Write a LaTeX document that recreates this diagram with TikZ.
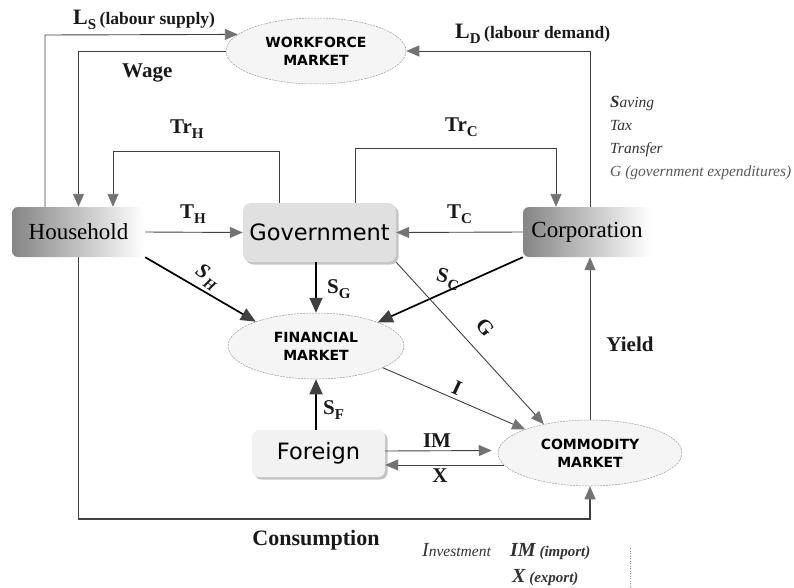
\documentclass[tikz,border=0pt]{standalone}
\usepackage{fontspec}
\setmainfont{Liberation Serif}
\newfontfamily\sansbox{DejaVu Sans}
\usetikzlibrary{arrows.meta,shapes.geometric,shadows}

% lowered subscript letter used in the flow labels
\newcommand\lsub[1]{\raisebox{-5pt}{\fontsize{15}{15}\selectfont #1}}

\begin{document}
\begin{tikzpicture}[x=1pt,y=-1pt,
  flow/.style={draw=black!75, line width=0.9pt,
    -{Triangle[length=13pt,width=11pt,color=black!55]}},
  heavy/.style={draw=black, line width=1.7pt,
    -{Triangle[length=15pt,width=13pt,color=black!75]}},
  market/.style={ellipse, draw=black!40, line width=0.5pt,
    dash pattern=on 2pt off 1pt, fill=black!4, inner sep=0pt,
    align=center, font=\sansbox\bfseries\fontsize{14}{18}\selectfont},
  gradbox/.style={rectangle, rounded corners=6pt, left color=black!48,
    right color=white, minimum height=50pt,
    font=\fontsize{23}{27}\selectfont},
  shadebox/.style={rectangle, rounded corners=8pt, fill=black!12,
    drop shadow={shadow xshift=2.5pt, shadow yshift=-2.5pt, fill=black!45},
    font=\sansbox\fontsize{22.5}{27}\selectfont},
  lab/.style={inner sep=0pt, text=black!90,
    font=\bfseries\fontsize{21}{24}\selectfont},
  note/.style={inner sep=0pt, anchor=base west, text=black!80,
    font=\itshape\fontsize{15.5}{17}\selectfont}
]
\useasboundingbox (0,0) rectangle (794,587);

% markets
\node[market, minimum width=180pt, minimum height=66pt] (wf) at (316,51) {WORKFORCE\\MARKET};
\node[market, minimum width=176pt, minimum height=66pt] (fin) at (316,346) {FINANCIAL\\MARKET};
\node[market, minimum width=184pt, minimum height=66pt] (com) at (590,453) {COMMODITY\\MARKET};

% agents
\node[gradbox, minimum width=133pt] (hh) at (78.5,232) {Household};
\node[shadebox, minimum width=153pt, minimum height=59pt] (gov) at (319.5,232.5) {Government};
\node[gradbox, minimum width=128pt] (corp) at (587,232) {Corporation};
\node[shadebox, fill=black!5, rounded corners=7pt, minimum width=133pt, minimum height=47pt] (frn) at (318.5,453.5) {Foreign};

% bend points of the elbow connectors
\coordinate (lsx) at (45,35);
\coordinate (trhR) at (279,151);
\coordinate (trhL) at (113,151);
\coordinate (trcL) at (355,148);
\coordinate (trcR) at (556,148);
\coordinate (ldx) at (590,50);
\coordinate (consY) at (79,519);

% labour market
\draw[flow] (hh.north -| lsx) -- (lsx) -- (wf.168.5);
\draw[flow] (wf.west) -| (hh.north);
\draw[flow] (corp.north -| ldx) |- (wf.east);

% transfers and taxes
\draw[flow] (gov.north -| trhR) -- (trhR) -- (trhL) -- (hh.north -| trhL);
\draw[flow] (gov.north -| trcL) -- (trcL) -- (trcR) -- (corp.north -| trcR);
\draw[flow] (hh.east) -- (gov.west);
\draw[flow] (corp.west) -- (gov.east);

% savings
\draw[heavy] (hh.south east) -- (fin.158);
\draw[heavy] (gov.south -| fin.north) -- (fin.north);
\draw[heavy] (corp.south west) -- (fin.21);
\draw[heavy] (frn.north -| fin.south) -- (fin.south);

% goods
\draw[flow] (gov.south east) -- (com.148);
\draw[flow] (fin.-18) -- (com.160);
\draw[flow] ([yshift=2.5pt]frn.east) -- ([yshift=2.5pt,xshift=-6pt]com.west);
\draw[flow] ([yshift=-12pt,xshift=6pt]com.west) -- ([yshift=-11.5pt]frn.east);
\draw[flow, line width=1.1pt] (hh.south) |- (consY -| com.south) -- (com.south);
\draw[flow] (com.north) -- (corp.south -| com.north);

% flow labels
\node[lab, anchor=base west] (lsl) at (73,24) {{\fontsize{22}{24}\selectfont L}\lsub{S}\,{\fontsize{17.5}{20}\selectfont (labour supply)}};
\node[lab, anchor=base west] (ldl) at (455,38) {{\fontsize{22}{24}\selectfont L}\lsub{D}\,{\fontsize{17.5}{20}\selectfont (labour demand)}};
\node[lab, anchor=base west] (wagel) at (122,77) {Wage};
\node[lab, anchor=base west] (trhl) at (170,133) {Tr\lsub{H}};
\node[lab, anchor=base west] (trcl) at (445,131) {Tr\lsub{C}};
\node[lab, anchor=base west] (thl) at (180,218) {T\lsub{H}};
\node[lab, anchor=base west] (tcl) at (447,218) {T\lsub{C}};
\node[lab, rotate=-35] (shl) at (207,277) {\itshape S\kern1.5pt\lsub{H}};
\node[lab, anchor=base west] (sgl) at (327,293) {S\lsub{G}};
\node[lab, rotate=-15] (scl) at (448,279) {S\kern1.5pt\lsub{C}};
\node[lab, rotate=-50] (gl) at (485,327) {G};
\node[lab, rotate=-25] (il) at (457,388) {I};
\node[lab, anchor=base west] (sfl) at (323,414) {S\lsub{F}};
\node[lab] (iml) at (437,441) {IM};
\node[lab] (xl) at (440,476) {X};
\node[lab] (yieldl) at (630,344) {Yield};
\node[lab, font=\bfseries\fontsize{22}{24}\selectfont] (consl) at (316,540) {Consumption};

% key to the symbols
\node[note] (k1) at (610,107) {{\bfseries\fontsize{17}{17}\selectfont S}aving};
\node[note] (k2) at (610,130) {Tax};
\node[note] (k3) at (610,153) {Transfer};
\node[note, text=black!65] (k4) at (610,176) {G (government expenditures)};
\node[note] (k5) at (422,556) {{\fontsize{20}{20}\selectfont I}nvestment};
\node[note, font=\bfseries\itshape\fontsize{15}{17}\selectfont] (k6) at (510,556) {{\fontsize{20}{20}\selectfont IM} (import)};
\node[note, font=\bfseries\itshape\fontsize{15}{17}\selectfont] (k7) at (512,582) {{\fontsize{20}{20}\selectfont X} (export)};

\coordinate (sepT) at (630,548);
\coordinate (sepB) at (630,587);
\draw[black!45, dotted, line width=0.5pt] (sepT) -- (sepB);
\end{tikzpicture}
\end{document}
